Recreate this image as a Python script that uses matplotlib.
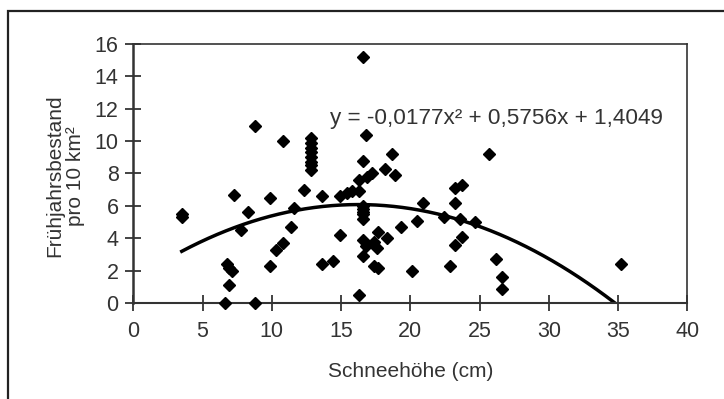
import numpy as np
import matplotlib.pyplot as plt
from matplotlib.patches import Rectangle

plt.rcParams['font.family'] = ['Liberation Sans', 'DejaVu Sans']

# Schneehoehe (cm) vs. Fruehjahrsbestand pro 10 km2
snow = [3.5, 3.5, 6.6, 6.8, 6.9, 7.1, 6.9, 7.3, 7.8, 8.3, 8.8, 8.8,
        9.9, 9.9, 10.3, 10.8, 10.8, 11.4, 11.6, 12.3,
        12.8, 12.8, 12.8, 12.8, 12.8, 12.8, 12.8, 12.8,
        13.6, 13.6, 14.4, 14.9, 14.9, 15.4, 15.8, 16.3, 16.3, 16.3,
        16.6, 16.8, 16.6, 16.6, 16.6, 16.6, 16.6, 16.6, 16.6, 16.6, 16.8,
        16.9, 17.2, 17.4, 17.6, 17.4, 17.7, 17.7, 18.2, 18.3, 18.7, 18.9,
        19.3, 20.1, 20.5, 20.9, 22.4, 22.9, 23.2, 23.7, 23.2, 23.6, 23.7,
        23.2, 24.7, 25.7, 26.2, 26.6, 26.6, 35.2]
density = [5.5, 5.3, 0.0, 2.4, 2.2, 2.0, 1.1, 6.7, 4.5, 5.6, 10.9, 0.0,
           6.5, 2.3, 3.3, 3.7, 10.0, 4.7, 5.9, 7.0,
           10.2, 9.9, 9.6, 9.3, 9.0, 8.7, 8.5, 8.2,
           6.6, 2.4, 2.6, 6.6, 4.2, 6.8, 6.9, 7.6, 6.9, 0.5,
           15.2, 10.4, 8.8, 6.0, 5.8, 5.6, 5.5, 5.2, 3.9, 2.9, 3.5,
           7.8, 8.0, 3.8, 3.4, 2.3, 2.2, 4.4, 8.3, 4.0, 9.2, 7.9,
           4.7, 2.0, 5.1, 6.2, 5.3, 2.3, 7.1, 7.3, 6.2, 5.2, 4.1,
           3.6, 5.0, 9.2, 2.7, 1.6, 0.9, 2.4]

# trendline coefficients as printed in the chart
coef = [-0.0177, 0.5756, 1.4049]
equation = "y = -0,0177x² + 0,5756x + 1,4049"

xticks = [0, 5, 10, 15, 20, 25, 30, 35, 40]
yticks = [0, 2, 4, 6, 8, 10, 12, 14, 16]

fig = plt.figure(figsize=(7.24, 3.99), dpi=100)
ax = fig.add_axes([0.1841, 0.2399, 0.7652, 0.6506])

# outer frame of the figure
fig.patches.append(Rectangle((0.011, -0.05), 1.1, 0.9724 + 0.05, transform=fig.transFigure,
                             fill=False, edgecolor='#222222', linewidth=1.6))

xs = np.linspace(min(snow), max(snow), 200)
ax.plot(xs, np.polyval(coef, xs), color='black', linewidth=2.5)
ax.plot(snow, density, linestyle='none', marker='D', markersize=6.3,
        color='black', clip_on=False, zorder=3)

ax.text(14.2, 11.4, equation, fontsize=16.2, color='#333333', va='center')

ax.set_xlim(0, 40)
ax.set_ylim(0, 16)
ax.set_xticks(xticks)
ax.set_yticks(yticks)
ax.tick_params(direction='inout', length=11, width=1.2, colors='#222222',
               labelsize=15.5, labelcolor='#333333')
ax.tick_params(axis='x', pad=7)
ax.tick_params(axis='y', pad=5)
for s in ax.spines.values():
    s.set_color('#333333')
    s.set_linewidth(1.2)
ax.spines['left'].set_linewidth(1.8)
ax.spines['bottom'].set_linewidth(1.5)

ax.set_xlabel('Schneehöhe (cm)', fontsize=15, color='#333333')
ax.xaxis.set_label_coords(0.5, -0.225)
ax.set_ylabel('Frühjahrsbestand\npro 10 km²', fontsize=15, color='#333333',
              linespacing=1.15)
ax.yaxis.set_label_coords(-0.087, 0.49)

fig.savefig('out.png', dpi=100)
